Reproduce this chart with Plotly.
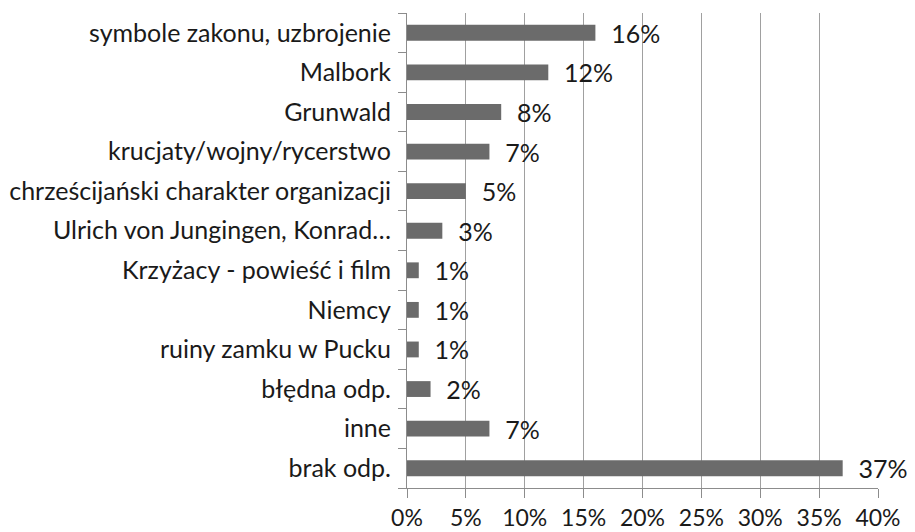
import plotly.graph_objects as go

categories = [
    "symbole zakonu, uzbrojenie",
    "Malbork",
    "Grunwald",
    "krucjaty/wojny/rycerstwo",
    "chrześcijański charakter organizacji",
    "Ulrich von Jungingen, Konrad…",
    "Krzyżacy - powieść i film",
    "Niemcy",
    "ruiny zamku w Pucku",
    "błędna odp.",
    "inne",
    "brak odp.",
]
values = [16, 12, 8, 7, 5, 3, 1, 1, 1, 2, 7, 37]
x_ticks = [0, 5, 10, 15, 20, 25, 30, 35, 40]
x_tick_labels = [f"{v}%" for v in x_ticks]

font_family = "Lato, 'Open Sans', sans-serif"
fsize = 25

fig = go.Figure(
    go.Bar(
        y=categories,
        x=values,
        orientation="h",
        marker=dict(color="#6b6b6b", line=dict(width=0)),
        text=[f"  {v}%" for v in values],
        textposition="outside",
        constraintext="none",
        cliponaxis=False,
        textfont=dict(family=font_family, size=fsize, color="#1a1a1a"),
    )
)

# page body has an 8px default margin, so the figure is offset by 8px
fig.update_layout(
    width=907,
    height=524,
    margin=dict(l=399, r=37, t=5, b=44),
    paper_bgcolor="white",
    plot_bgcolor="white",
    bargap=0.6,
    showlegend=False,
    font=dict(family=font_family, size=fsize, color="#1a1a1a"),
)

fig.update_xaxes(
    range=[0, 40],
    tickvals=x_ticks,
    ticktext=x_tick_labels,
    showgrid=True,
    gridcolor="#a0a0a0",
    gridwidth=1,
    zeroline=False,
    showline=True,
    linecolor="#8c8c8c",
    ticks="outside",
    ticklen=9,
    tickcolor="#8c8c8c",
    tickfont=dict(family=font_family, size=23, color="#1a1a1a"),
    ticklabelstandoff=0,
    automargin=False,
    fixedrange=True,
)

fig.update_yaxes(
    categoryorder="array",
    categoryarray=categories[::-1],
    autorange=False,
    range=[-0.5, len(categories) - 0.5],
    showline=True,
    linecolor="#8c8c8c",
    ticks="outside",
    ticklen=8,
    tickcolor="#8c8c8c",
    tickson="boundaries",
    showgrid=False,
    tickfont=dict(family=font_family, size=fsize, color="#1a1a1a"),
    ticklabelstandoff=10,
    automargin=False,
    fixedrange=True,
)

fig.write_html("out.html")
